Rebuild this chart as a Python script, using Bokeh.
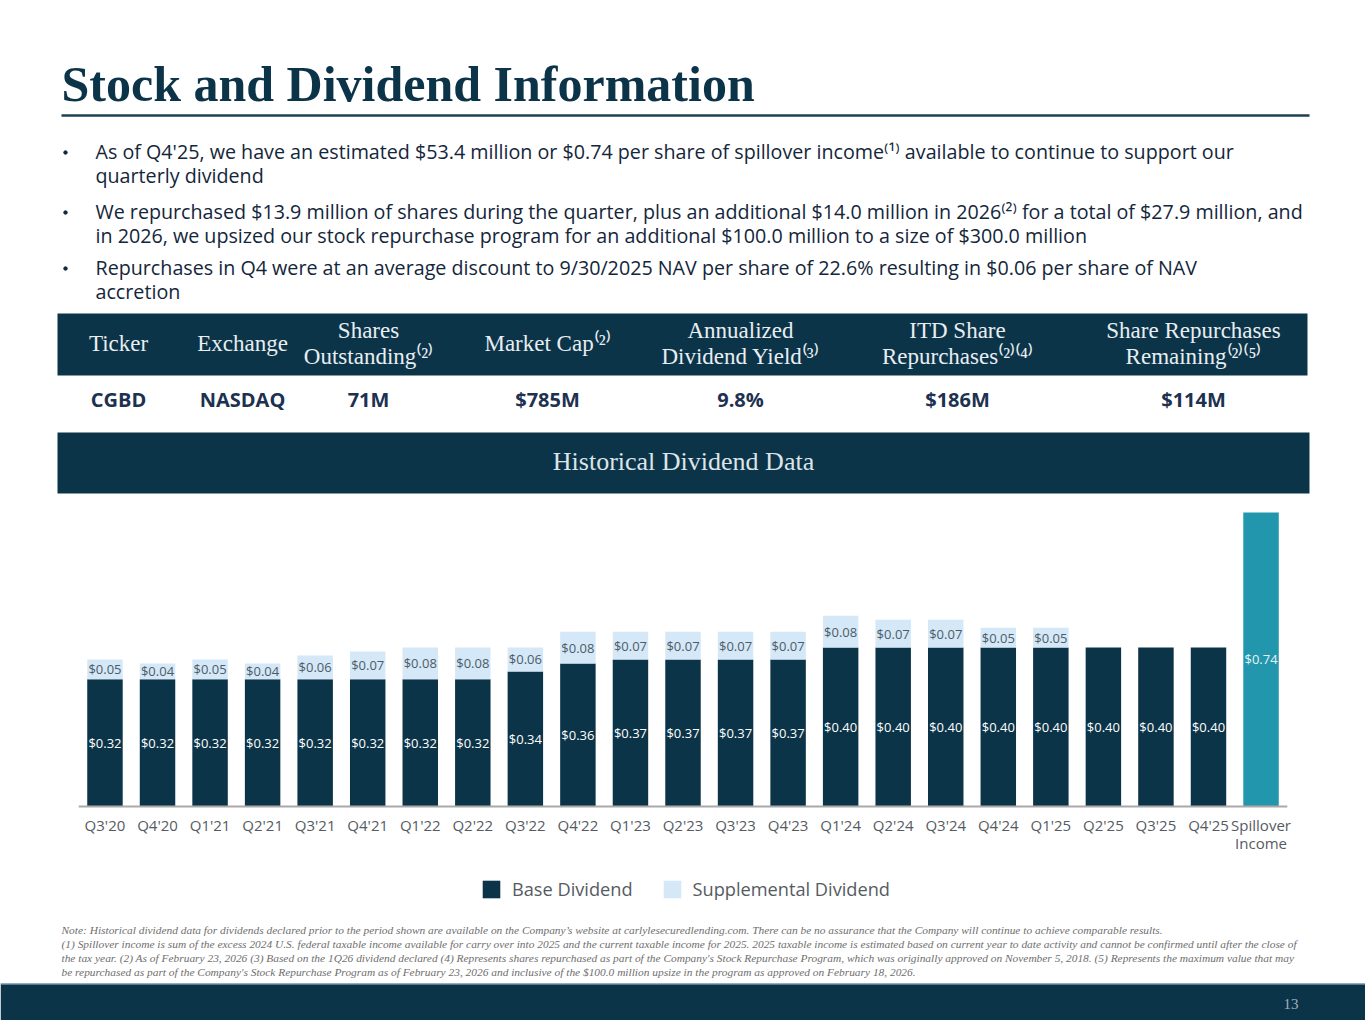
from bokeh.plotting import figure
from bokeh.models import Range1d, ColumnDataSource, Legend, LegendItem, FactorRange
from bokeh.transform import dodge
from bokeh.layouts import column
from bokeh.embed import file_html
from bokeh.resources import INLINE
from bokeh.core.properties import value

# ---------------- data ----------------
title = "Stock and Dividend Information"
bullets = [
    ["As of Q4'25, we have an estimated $53.4 million or $0.74 per share of spillover income\u207d\u00b9\u207e available to continue to support our",
     "quarterly dividend"],
    ["We repurchased $13.9 million of shares during the quarter, plus an additional $14.0 million in 2026\u207d\u00b2\u207e for a total of $27.9 million, and",
     "in 2026, we upsized our stock repurchase program for an additional $100.0 million to a size of $300.0 million"],
    ["Repurchases in Q4 were at an average discount to 9/30/2025 NAV per share of 22.6% resulting in $0.06 per share of NAV",
     "accretion"],
]
table_headers = [["Ticker"], ["Exchange"], ["Shares", "Outstanding\u207d\u00b2\u207e"], ["Market Cap\u207d\u00b2\u207e"],
                 ["Annualized", "Dividend Yield\u207d\u00b3\u207e"], ["ITD Share", "Repurchases\u207d\u00b2\u207e\u207d\u2074\u207e"],
                 ["Share Repurchases", "Remaining\u207d\u00b2\u207e\u207d\u2075\u207e"]]
table_values = ["CGBD", "NASDAQ", "71M", "$785M", "9.8%", "$186M", "$114M"]
section_title = "Historical Dividend Data"

quarters = ["Q3'20", "Q4'20", "Q1'21", "Q2'21", "Q3'21", "Q4'21", "Q1'22", "Q2'22", "Q3'22", "Q4'22",
            "Q1'23", "Q2'23", "Q3'23", "Q4'23", "Q1'24", "Q2'24", "Q3'24", "Q4'24", "Q1'25", "Q2'25",
            "Q3'25", "Q4'25", "Spillover\nIncome"]
base_div = [0.32, 0.32, 0.32, 0.32, 0.32, 0.32, 0.32, 0.32, 0.34, 0.36,
            0.37, 0.37, 0.37, 0.37, 0.40, 0.40, 0.40, 0.40, 0.40, 0.40,
            0.40, 0.40, 0.0]
supp_div = [0.05, 0.04, 0.05, 0.04, 0.06, 0.07, 0.08, 0.08, 0.06, 0.08,
            0.07, 0.07, 0.07, 0.07, 0.08, 0.07, 0.07, 0.05, 0.05, 0.0,
            0.0, 0.0, 0.0]
spillover = [0.0] * 22 + [0.74]
legend_labels = ["Base Dividend", "Supplemental Dividend"]

notes = [
    "Note: Historical dividend data for dividends declared prior to the period shown are available on the Company\u2019s website at carlylesecuredlending.com.  There can be no assurance that the Company will continue to achieve comparable results.",
    "(1) Spillover income is sum of the excess 2024 U.S. federal taxable income available for carry over into 2025 and the current taxable income for 2025. 2025 taxable income is estimated based on current year to date activity and cannot be confirmed until after the close of",
    "the tax year. (2) As of February 23, 2026 (3) Based on the 1Q26 dividend declared (4) Represents shares repurchased as part of the Company's Stock Repurchase Program, which was originally approved on November 5, 2018. (5) Represents the maximum value that may",
    "be repurchased as part of the Company's Stock Repurchase Program as of February 23, 2026 and inclusive of the $100.0 million upsize in the program as approved on February 18, 2026.",
]
page_number = "13"

# ---------------- styles ----------------
NAVY = "#0c3449"
LIGHT = "#d4e8f7"
TEAL = "#2196ad"
TEXT = "#13263a"
GREY = "#555b62"
SANS = "Open Sans"
SERIF = "Liberation Serif"
W = 1365


def blank(height, y0, y1):
    p = figure(width=W, height=height, x_range=Range1d(0, W), y_range=Range1d(y1, y0),
               output_backend="svg", toolbar_location=None, min_border=0,
               x_axis_location=None, y_axis_location=None)
    p.grid.visible = False
    p.outline_line_color = None
    p.background_fill_color = "white"
    p.border_fill_color = "white"
    return p


# ---------------- top section ----------------
top = blank(505, 0, 505)
top.text(x=[61], y=[83], text=[title], text_font=value(SERIF), text_font_style="bold",
         text_font_size="50px", text_color=NAVY, text_baseline="middle")
top.segment(x0=[61], y0=[115], x1=[1309], y1=[115], line_color="#1f3f52", line_width=2.5)

bullet_y = [151, 211, 267]
for by, lines in zip(bullet_y, bullets):
    top.scatter(x=[65], y=[by + 1], size=3.5, color=TEXT)
    for i, ln in enumerate(lines):
        top.text(x=[95], y=[by + 24 * i], text=[ln], text_font=value(SANS), text_font_size="19.7px",
                 text_color=TEXT, text_baseline="middle")

top.quad(left=[57], right=[1307], top=[313], bottom=[375], fill_color=NAVY, line_color=None)
col_x = [118, 242, 368, 547, 740, 957, 1193]
for cx, hdr, val in zip(col_x, table_headers, table_values):
    ys = [343] if len(hdr) == 1 else [330, 356]
    for yy, t in zip(ys, hdr):
        top.text(x=[cx], y=[yy], text=[t], text_font=value(SERIF), text_font_size="23px",
                 text_color="#e8eef2", text_align="center", text_baseline="middle")
    top.text(x=[cx], y=[399], text=[val], text_font=value(SANS), text_font_style="bold",
             text_font_size="20px", text_color="#1d3150", text_align="center", text_baseline="middle")

top.quad(left=[57], right=[1309], top=[432], bottom=[493], fill_color=NAVY, line_color=None)
top.text(x=[683], y=[461], text=[section_title], text_font=value(SERIF), text_font_size="26px",
         text_color="#dde5ea", text_align="center", text_baseline="middle")

# ---------------- chart ----------------
src = ColumnDataSource(dict(q=quarters, base=base_div, supp=supp_div, spill=spillover))
PX_PER_UNIT = 396.0
CH_TOP, CH_BOTTOM = 3, 68
pc = figure(width=W, height=300 + CH_TOP + CH_BOTTOM,
            x_range=FactorRange(factors=quarters, range_padding=1.488, range_padding_units="absolute"),
            y_range=Range1d(-2 / PX_PER_UNIT, 0.75), output_backend="svg", toolbar_location=None,
            min_border_left=0, min_border_right=0, min_border_top=CH_TOP, min_border_bottom=CH_BOTTOM,
            y_axis_location=None)
pc.grid.visible = False
pc.outline_line_color = None
rs = pc.vbar_stack(["base", "supp", "spill"], x="q", width=0.675, source=src,
                   fill_color=[NAVY, LIGHT, TEAL], line_color=None)
base_src = ColumnDataSource(dict(a=[quarters[0]], b=[quarters[-1]], y=[0.0]))
pc.segment(x0=dodge("a", -0.5, range=pc.x_range), x1=dodge("b", 0.5, range=pc.x_range),
           y0="y", y1="y", source=base_src, line_color="#a9a9a9", line_width=2)

bx, by_, bt = [], [], []
sx, sy, st = [], [], []
px, py, pt = [], [], []
for q, b, s, sp in zip(quarters, base_div, supp_div, spillover):
    if b > 0:
        bx.append(q); by_.append(b / 2); bt.append(f"${b:.2f}")
    if s > 0:
        sx.append(q); sy.append(b + s / 2); st.append(f"${s:.2f}")
    if sp > 0:
        px.append(q); py.append(sp / 2); pt.append(f"${sp:.2f}")
lab = dict(text_font=value(SANS), text_font_size="13px", text_align="center", text_baseline="middle")
pc.text(x=bx, y=by_, text=bt, text_color="white", **lab)
pc.text(x=sx, y=sy, text=st, text_color="#4d5b68", **lab)
pc.text(x=px, y=py, text=pt, text_color="#e6f4f8", **lab)

ax = pc.xaxis[0]
ax.axis_line_color = None
ax.major_tick_line_color = None
ax.minor_tick_line_color = None
ax.major_label_text_font = SANS
ax.major_label_text_font_size = "15px"
ax.major_label_text_color = GREY
ax.major_label_text_line_height = 0.9
ax.major_label_standoff = 0

# ---------------- footer ----------------
F0 = 505 + 300 + CH_TOP + CH_BOTTOM
foot = blank(1020 - F0, F0, 1020)
leg_base = foot.quad(left=[-30], right=[-20], top=[F0 + 5], bottom=[F0 + 15], fill_color=NAVY, line_color=None)
leg_supp = foot.quad(left=[-30], right=[-20], top=[F0 + 5], bottom=[F0 + 15], fill_color=LIGHT, line_color=None)
legend = Legend(items=[LegendItem(label=legend_labels[0], renderers=[leg_base]),
                       LegendItem(label=legend_labels[1], renderers=[leg_supp])],
                orientation="horizontal", location=(480, 119), glyph_width=22, glyph_height=22,
                label_height=16, label_standoff=10, spacing=28, padding=0, margin=0,
                border_line_color=None, background_fill_alpha=0,
                label_text_font=SANS, label_text_font_size="18.2px", label_text_color=GREY)
foot.add_layout(legend)

for i, n in enumerate(notes):
    foot.text(x=[61], y=[929 + 14 * i], text=[n], text_font=value(SERIF), text_font_style="italic",
              text_font_size="11.4px", text_color="#6e6e6e", text_baseline="middle")
foot.quad(left=[0], right=[W], top=[983], bottom=[1030], fill_color=NAVY, line_color=None)
foot.segment(x0=[0], y0=[983.5], x1=[W], y1=[983.5], line_color="#9fc3d6", line_width=1.2)
foot.text(x=[1298], y=[1003], text=[page_number], text_font=value(SERIF), text_font_size="15px",
          text_color="#9fb0bc", text_align="right", text_baseline="middle")

page = column(top, pc, foot, spacing=0)
open("out.html", "w").write(file_html(page, INLINE))
